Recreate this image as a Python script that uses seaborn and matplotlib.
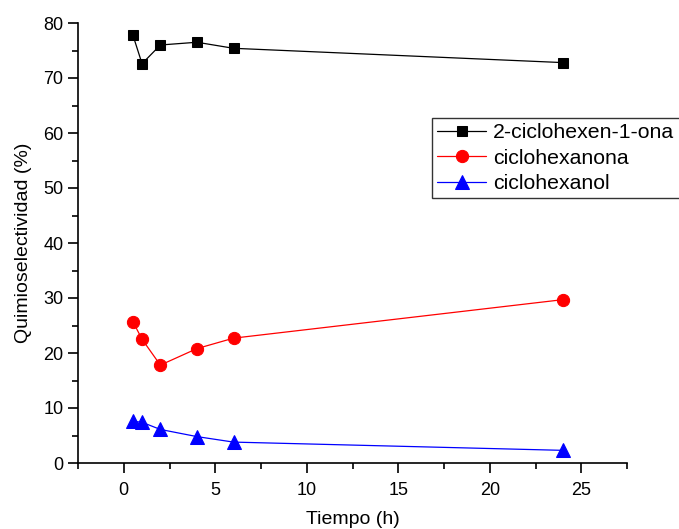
import matplotlib
matplotlib.use("Agg")
import matplotlib.pyplot as plt
import seaborn as sns
import pandas as pd
from matplotlib.ticker import MultipleLocator

tiempo = [0.5, 1, 2, 4, 6, 24]
ciclohexenona = [77.8, 72.6, 76.0, 76.5, 75.4, 72.8]
ciclohexanona = [25.7, 22.5, 17.8, 20.8, 22.7, 29.7]
ciclohexanol = [7.6, 7.4, 6.1, 4.8, 3.8, 2.3]
series_names = ["2-ciclohexen-1-ona", "ciclohexanona", "ciclohexanol"]

sns.set_style("ticks")
plt.rcParams["font.family"] = ["Liberation Sans", "DejaVu Sans"]
plt.rcParams["text.color"] = "black"
plt.rcParams["axes.labelcolor"] = "black"
plt.rcParams["xtick.color"] = "black"
plt.rcParams["ytick.color"] = "black"
plt.rcParams["axes.edgecolor"] = "black"

fig = plt.figure(figsize=(6.79, 5.29), dpi=100)
ax = fig.add_axes([78/679, 1-463/529, (627-78)/679, (463-23)/529])

styles = [("black", "s", 7.8), ("red", "o", 8.8), ("blue", "^", 9.5)]
for name, vals, (c, m, ms) in zip(series_names, [ciclohexenona, ciclohexanona, ciclohexanol], styles):
    df = pd.DataFrame({"t": tiempo, "v": vals})
    sns.lineplot(data=df, x="t", y="v", ax=ax, color=c, marker=m, markersize=ms,
                 markeredgecolor=c, linewidth=0.9, label=name)

ax.set_xlim(-2.5, 27.5)
ax.set_ylim(0, 80)
ax.xaxis.set_major_locator(MultipleLocator(5))
ax.xaxis.set_minor_locator(MultipleLocator(2.5))
ax.yaxis.set_major_locator(MultipleLocator(10))
ax.yaxis.set_minor_locator(MultipleLocator(5))
ax.tick_params(which="major", length=7, width=1.2, labelsize=13, direction="out", colors="black")
ax.tick_params(which="minor", length=4, width=1.2, direction="out", colors="black")
ax.tick_params(axis="x", which="major", pad=7)
for s in ["top", "right"]:
    ax.spines[s].set_visible(False)
for s in ["left", "bottom"]:
    ax.spines[s].set_linewidth(1.2)
ax.set_xlabel("Tiempo (h)", fontsize=14, labelpad=8)
ax.set_ylabel("Quimioselectividad (%)", fontsize=14, labelpad=8)

leg = ax.legend(loc="upper left", bbox_to_anchor=(432/679, 1-118/529),
                bbox_transform=fig.transFigure, fontsize=15.3, frameon=True,
                fancybox=False, edgecolor="black", borderpad=0.25,
                handlelength=2.3, handletextpad=0.33, labelspacing=0.3,
                borderaxespad=0)
leg.get_frame().set_linewidth(1.0)

fig.savefig("out.png", dpi=100)
